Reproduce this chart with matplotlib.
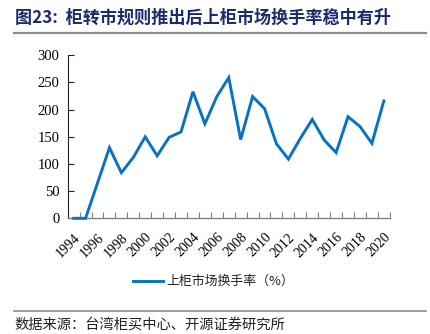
import numpy as np
import matplotlib
matplotlib.use("Agg")
import matplotlib.pyplot as plt
from matplotlib.lines import Line2D

plt.rcParams['font.family'] = ['Noto Sans CJK SC', 'DejaVu Sans']

years = list(range(1994, 2021))
turnover = [0, 0, 65, 130, 84, 112, 150, 115, 149, 159, 233, 174,
            224, 259, 145, 224, 202, 137, 109, 147, 182, 144, 121, 187,
            169, 138, 216]
yticks = [0, 50, 100, 150, 200, 250, 300]

title = "图23:  柜转市规则推出后上柜市场换手率稳中有升"
legend_label = "上柜市场换手率（%）"
source = "数据来源：台湾柜买中心、开源证券研究所"

fig = plt.figure(figsize=(4.3, 3.34), dpi=100)
ax = fig.add_axes([0.1574, 0.3464, 0.7491, 0.488])

x = np.arange(len(years))
ax.plot(x, turnover, color='#0872c2', lw=2.1, solid_joinstyle='miter',
        clip_on=False, zorder=5)

ax.set_xlim(-0.5, len(years) - 0.5)
ax.set_ylim(0, 300)

# boundaries between categories carry the tick marks
ax.set_xticks(np.arange(-0.5, len(years)), minor=True)
ax.set_xticks(x[::2])
ax.set_xticklabels([str(y) for y in years[::2]], rotation=45, ha='right',
                   va='top', rotation_mode='anchor',
                   fontfamily='Liberation Serif', fontsize=10)
ax.tick_params(axis='x', which='major', length=0, pad=9)
ax.tick_params(axis='x', which='minor', direction='in', length=4,
               color='#808080', width=0.8)

ax.set_yticks(yticks)
ax.set_yticklabels([str(v) for v in yticks], fontfamily='Liberation Serif',
                   fontsize=10.5)
ax.tick_params(axis='y', direction='in', length=4, width=0.8, pad=6,
               color='#222222')

for s in ('top', 'right'):
    ax.spines[s].set_visible(False)
ax.spines['bottom'].set_color('#808080')
ax.spines['bottom'].set_linewidth(1.0)
ax.spines['left'].set_color('#222222')
ax.spines['left'].set_linewidth(0.8)

# legend drawn by hand below the axis
handle = Line2D([0.309, 0.379], [0.158, 0.158], transform=fig.transFigure,
                color='#0872c2', lw=2.1)
fig.add_artist(handle)
fig.text(0.386, 0.158, legend_label, fontsize=9.3, va='center', ha='left',
         color='#222222')

fig.text(0.035, 0.948, title, fontsize=12.3, fontweight='bold',
         color='#1c2b6e', va='center', ha='left')
fig.add_artist(Line2D([0.033, 0.99], [0.902, 0.902], transform=fig.transFigure,
                      color='#8c8c8c', lw=1.6))

fig.add_artist(Line2D([0.033, 0.99], [0.07, 0.07], transform=fig.transFigure,
                      color='#8c8c8c', lw=1.2))
fig.text(0.033, 0.027, source, fontsize=10.3, va='center', ha='left',
         color='#222222')

fig.savefig("out.png", dpi=100)
